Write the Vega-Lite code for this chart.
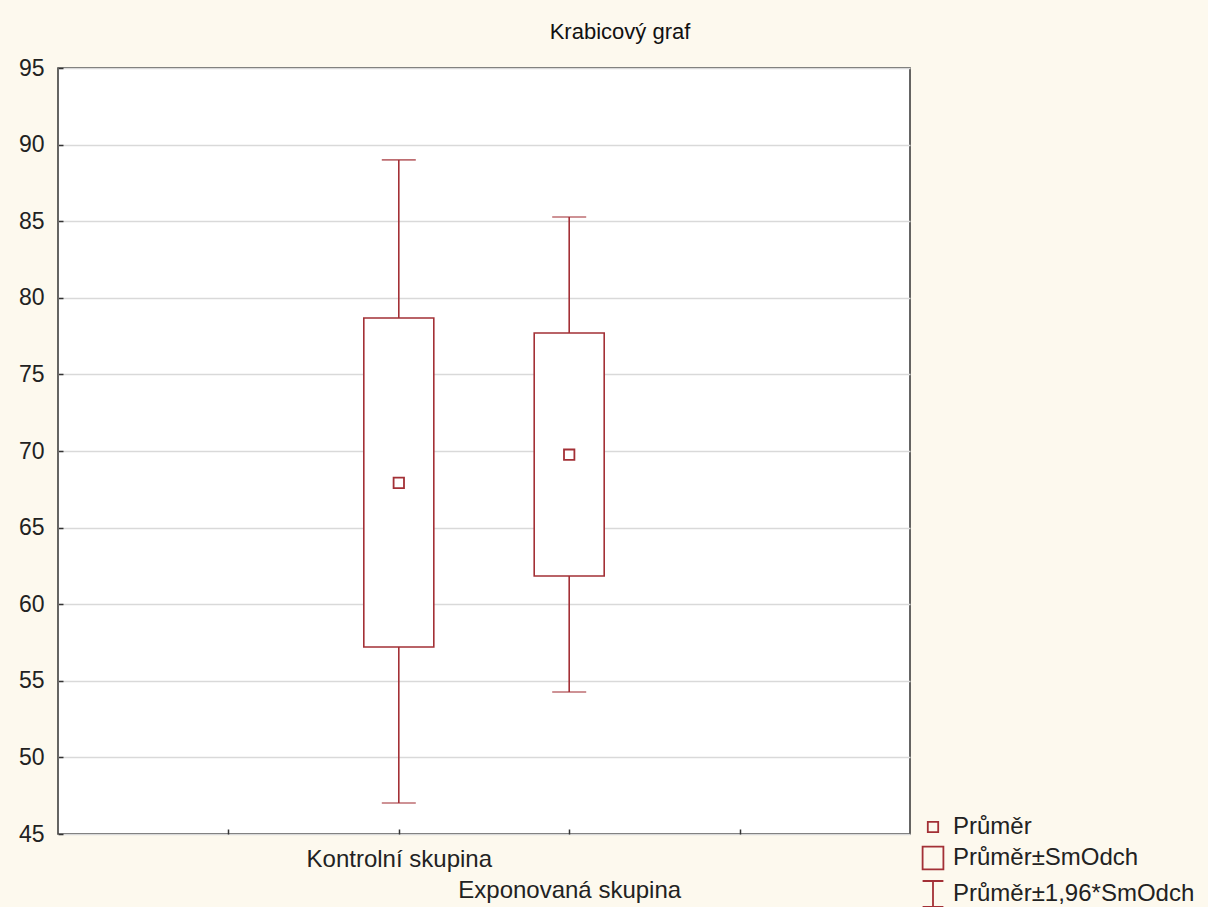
{
  "$schema": "https://vega.github.io/schema/vega-lite/v6.json",
  "width": 852,
  "height": 766,
  "autosize": "none",
  "padding": {"left": 58, "top": 68, "right": 298, "bottom": 73},
  "background": "#fdf9ee",
  "title": {"text": "Krabicový graf", "fontSize": 22, "fontWeight": "normal", "font": "Liberation Sans", "color": "#111", "anchor": "middle", "dx": 136, "offset": 13},
  "config": {
    "font": "Liberation Sans",
    "view": {"fill": "white", "stroke": "#333", "strokeWidth": 1.5}
  },
  "data": {
    "values": [
      {"skupina": "Kontrolní skupina", "prumer": 67.92, "sd_lo": 57.21, "sd_hi": 78.68, "ci_lo": 47.02, "ci_hi": 89.0},
      {"skupina": "Exponovaná skupina", "prumer": 69.76, "sd_lo": 61.84, "sd_hi": 77.7, "ci_lo": 54.27, "ci_hi": 85.27}
    ]
  },
  "encoding": {
    "x": {
      "field": "skupina",
      "type": "nominal",
      "scale": {"type": "point", "domain": ["_0", "_1", "Kontrolní skupina", "Exponovaná skupina", "_4", "_5"], "padding": 0},
      "axis": {
        "orient": "bottom",
        "title": null,
        "values": ["_1", "Kontrolní skupina", "Exponovaná skupina", "_4"],
        "labelExpr": "datum.value == 'Exponovaná skupina' ? ['', datum.label] : (indexof(datum.value, '_') == 0 ? '' : datum.label)",
        "labelAngle": 0,
        "labelFontSize": 24,
        "labelFontWeight": "normal",
        "labelColor": "#222",
        "labelLineHeight": 31,
        "labelOverlap": false,
        "labelBound": false,
        "labelLimit": 400,
        "labelPadding": 18,
        "domain": false,
        "tickSize": -5,
        "tickColor": "#333",
        "tickWidth": 1.5,
        "grid": false
      }
    }
  },
  "layer": [
    {
      "mark": {"type": "rule", "color": "#a33036", "strokeWidth": 1.6},
      "encoding": {
        "y": {
          "field": "ci_lo",
          "type": "quantitative",
          "scale": {"domain": [45, 95], "nice": false, "zero": false},
          "axis": {
            "title": null,
            "values": [45, 50, 55, 60, 65, 70, 75, 80, 85, 90, 95],
            "grid": true,
            "gridColor": "#d9d9d9",
            "gridWidth": 1.5,
            "domain": false,
            "tickSize": -5,
            "tickColor": "#333",
            "tickWidth": 1.5,
            "labelFontSize": 23,
            "labelColor": "#222",
            "labelPadding": 19,
            "labelBound": false,
            "labelFlush": false
          }
        },
        "y2": {"field": "ci_hi"}
      }
    },
    {
      "mark": {"type": "bar", "width": 70, "fill": "white", "stroke": "#a33036", "strokeWidth": 1.6},
      "encoding": {
        "y": {"field": "sd_lo", "type": "quantitative"},
        "y2": {"field": "sd_hi"}
      }
    },
    {
      "mark": {"type": "tick", "size": 34, "thickness": 1.6, "color": "#a33036"},
      "encoding": {
        "y": {"field": "ci_lo", "type": "quantitative"}
      }
    },
    {
      "mark": {"type": "tick", "size": 34, "thickness": 1.6, "color": "#a33036"},
      "encoding": {
        "y": {"field": "ci_hi", "type": "quantitative"}
      }
    },
    {
      "mark": {"type": "point", "filled": false, "size": 676, "strokeWidth": 1.8, "color": "#a33036", "opacity": 1},
      "encoding": {
        "y": {"field": "prumer", "type": "quantitative"},
        "shape": {
          "datum": "Průměr",
          "scale": {
            "domain": ["Průměr", "Průměr±SmOdch", "Průměr±1,96*SmOdch"],
            "range": [
              "M-0.4,-0.4H0.4V0.4H-0.4Z",
              "M-0.8,-0.88H0.8V0.88H-0.8Z",
              "M-0.8,-1H0.8M0,-1V1M-0.8,1H0.8"
            ]
          },
          "legend": {
            "title": null,
            "orient": "none",
            "legendX": 861,
            "legendY": 745,
            "padding": 0,
            "symbolSize": 676,
            "symbolFillColor": "transparent",
            "symbolStrokeColor": "#a33036",
            "symbolStrokeWidth": 1.8,
            "symbolOpacity": 1,
            "labelFontSize": 24,
            "labelColor": "#222",
            "labelOffset": 6,
            "rowPadding": 3,
            "labelLimit": 400
          }
        }
      }
    }
  ]
}
